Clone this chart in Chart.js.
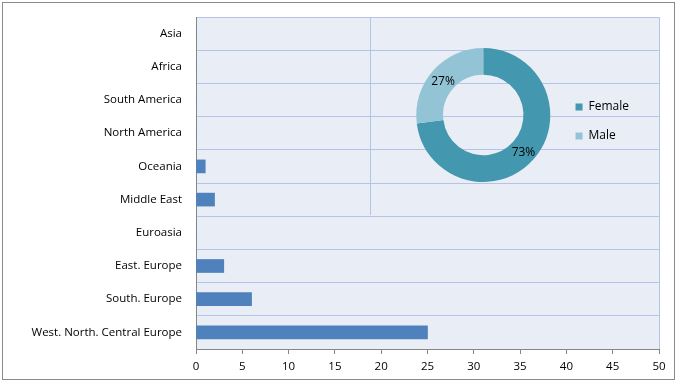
<!DOCTYPE html>
<html><head><meta charset="utf-8">
<script src="https://cdn.jsdelivr.net/npm/chart.js@4"></script>
<style>
html,body{margin:0;padding:0;background:#fff;}
#wrap{position:relative;width:678px;height:383px;overflow:hidden;background:#fff;}
#bar{position:absolute;left:0;top:0;}
#inset{position:absolute;left:370px;top:17px;width:288px;height:198px;border-left:1px solid #b3c4e6;}
#pie{display:block;}
#frame{position:absolute;left:2px;top:2px;width:671px;height:376px;border:1px solid #8a8a8a;pointer-events:none;}
</style></head>
<body>
<div id="wrap">
  <canvas id="bar" width="678" height="383"></canvas>
  <div id="inset"><canvas id="pie" width="288" height="198"></canvas></div>
  <div id="frame"></div>
</div>
<script>
// ---- data ----
const categories = ['Asia','Africa','South America','North America','Oceania','Middle East','Euroasia','East. Europe','South. Europe','West. North. Central Europe'];
const counts = [0,0,0,0,1,2,0,3,6,25];
const xMin = 0, xMax = 50, xStep = 5;
const genderLabels = ['Female','Male'];
const genderShares = [73,27];

// ---- styles ----
const FONT = 'Open Sans';
const plotBg = '#e9edf5';
const gridCol = '#b3c4e6';
const axisCol = '#868686';
const barCol = '#4f81bd';
const pieCols = ['#4398af','#93c4d6'];

const plotBgPlugin = {
  id: 'plotBg',
  beforeDraw(chart) {
    const {ctx, chartArea: a} = chart;
    ctx.save();
    ctx.fillStyle = plotBg;
    ctx.fillRect(a.left, a.top, a.right - a.left, a.bottom - a.top);
    ctx.restore();
  },
  beforeDatasetsDraw(chart) {
    const {ctx, chartArea: a} = chart;
    ctx.save();
    ctx.strokeStyle = gridCol;
    ctx.lineWidth = 1;
    ctx.beginPath();
    ctx.moveTo(Math.round(a.right) + 0.5, a.top);
    ctx.lineTo(Math.round(a.right) + 0.5, a.bottom);
    ctx.stroke();
    ctx.restore();
  }
};

new Chart(document.getElementById('bar'), {
  type: 'bar',
  data: {
    labels: categories,
    datasets: [{ data: counts, backgroundColor: barCol, borderWidth: 0, barThickness: 13 }]
  },
  options: {
    indexAxis: 'y',
    responsive: false,
    animation: false,
    devicePixelRatio: 1,
    layout: { padding: { top: 17, right: 19, left: 0, bottom: 0 } },
    plugins: { legend: { display: false }, tooltip: { enabled: false } },
    scales: {
      x: {
        min: xMin, max: xMax,
        ticks: { stepSize: xStep, color: '#000', font: { family: FONT, size: 11.5 }, padding: 6 },
        grid: { drawOnChartArea: false, drawTicks: true, tickLength: 5, color: axisCol },
        border: { color: axisCol },
        afterFit(s) { s.height = 34; s.paddingLeft = 0; s.paddingRight = 0; }
      },
      y: {
        ticks: { color: '#000', font: { family: FONT, size: 11.5 }, padding: 14 },
        grid: { color: gridCol, drawTicks: false, offset: true },
        border: { color: axisCol },
        afterFit(s) { s.width = 196; s.paddingTop = 0; s.paddingBottom = 0; }
      }
    }
  },
  plugins: [plotBgPlugin]
});

const pctLabels = {
  id: 'pctLabels',
  afterDatasetsDraw(chart) {
    const {ctx} = chart;
    const meta = chart.getDatasetMeta(0);
    ctx.save();
    ctx.fillStyle = '#000';
    ctx.font = '12px "' + FONT + '"';
    ctx.textAlign = 'center';
    ctx.textBaseline = 'middle';
    meta.data.forEach((arc, i) => {
      const p = arc.tooltipPosition();
      ctx.fillText(chart.data.datasets[0].data[i] + '%', p.x, p.y + 2);
    });
    ctx.restore();
  }
};

new Chart(document.getElementById('pie'), {
  type: 'doughnut',
  data: {
    labels: genderLabels,
    datasets: [{ data: genderShares, backgroundColor: pieCols, borderWidth: 0, hoverOffset: 0, offset: 0 }]
  },
  options: {
    responsive: false,
    animation: false,
    devicePixelRatio: 1,
    cutout: '60%',
    layout: { padding: { left: 37, right: 20, top: 31, bottom: 33 } },
    plugins: {
      tooltip: { enabled: false },
      legend: {
        position: 'right',
        title: { display: true, text: '', padding: { top: 13, bottom: 0 }, font: { size: 1, lineHeight: 0 } },
        labels: { boxWidth: 7, boxHeight: 7, padding: 17, color: '#000', font: { family: FONT, size: 12 } }
      }
    }
  },
  plugins: [pctLabels]
});
</script>
</body></html>
